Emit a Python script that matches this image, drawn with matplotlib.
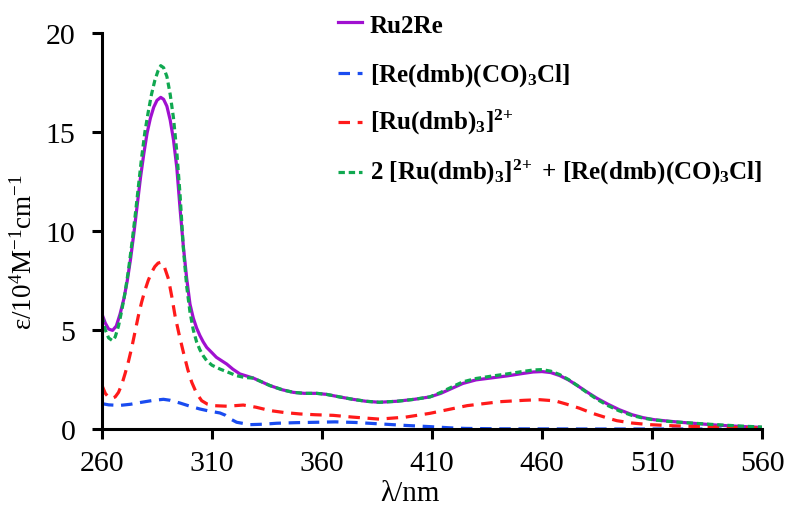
import matplotlib
matplotlib.use("Agg")
import matplotlib.pyplot as plt
from matplotlib.lines import Line2D

plt.rcParams['font.family'] = ['Liberation Serif', 'DejaVu Serif']
plt.rcParams['mathtext.default'] = 'regular'

# Ru2Re (solid purple)
wl_ru2re = [260, 261.5, 263, 264.8, 266.5, 268.2, 270, 271.5, 273, 274.5, 276, 277.5, 279,
            280.5, 282, 283.5, 285, 286.7, 288, 289.5, 291, 292.5, 294, 295.5, 297, 298.5,
            300, 301.5, 303, 304.5, 306, 307.6, 310, 312, 316.7, 319.5, 322.7, 328.8, 336.4,
            342, 347, 352, 357.6, 362, 368, 374, 380, 386, 394, 402, 409, 414, 419, 424, 430,
            437, 444, 451, 456, 460, 464, 468, 472, 476, 480, 485, 490, 495, 501, 506, 511,
            518, 524, 532, 539, 550, 560]
eps_ru2re = [5.8, 5.35, 5.05, 4.98, 5.2, 5.8, 6.6, 7.5, 8.6, 9.9, 11.3, 12.7, 13.9,
             14.95, 15.7, 16.25, 16.6, 16.75, 16.65, 16.3, 15.6, 14.6, 13.2, 11.1, 9.2, 7.6,
             6.3, 5.6, 5.1, 4.72, 4.4, 4.12, 3.85, 3.62, 3.28, 3.02, 2.78, 2.57, 2.19,
             1.98, 1.85, 1.8, 1.8, 1.75, 1.62, 1.5, 1.4, 1.35, 1.4, 1.5, 1.62, 1.8, 2.05, 2.3, 2.48,
             2.58, 2.68, 2.8, 2.88, 2.9, 2.85, 2.7, 2.48, 2.2, 1.9, 1.55, 1.25, 0.98, 0.72, 0.57, 0.47,
             0.39, 0.33, 0.26, 0.2, 0.13, 0.08]

# [Re(dmb)(CO)3Cl]
wl_re = [260, 263, 268, 273, 278, 283, 287.9, 291, 295.5, 300, 304.5, 309, 313.6, 316, 318.5,
         321.2, 327.3, 333, 339.4, 348, 357.6, 366, 375, 386, 398, 409, 418, 425, 440, 480, 560]
eps_re = [1.28, 1.22, 1.19, 1.25, 1.35, 1.44, 1.5, 1.45, 1.31, 1.15, 1.01, 0.9, 0.81, 0.7, 0.5,
          0.34, 0.22, 0.24, 0.29, 0.32, 0.34, 0.36, 0.33, 0.26, 0.18, 0.12, 0.06, 0.03, 0.01, 0.0, 0.0]

# [Ru(dmb)3]2+
wl_ru = [260, 261.5, 263, 264.5, 266, 267.5, 269, 270.5, 272, 273.5, 275, 276.5, 278, 279.5,
         281, 282.5, 284, 285.5, 286.8, 288, 290.2, 291.7, 293.2, 295, 297, 299, 300.8, 303,
         305.3, 308, 310.6, 317, 324.2, 330, 336.4, 343, 350, 357, 365, 374, 386,
         398, 409, 416, 426, 441, 452, 459, 466, 471, 477, 483, 489, 494, 501, 509, 520, 532,
         545, 560]
eps_ru = [2.2, 1.8, 1.6, 1.55, 1.62, 1.85, 2.25, 2.8, 3.4, 4.1, 4.9, 5.7, 6.4, 7.0,
          7.5, 7.9, 8.2, 8.38, 8.42, 8.3, 7.58, 6.7, 5.72, 4.8, 3.87, 3.0, 2.36, 1.8,
          1.43, 1.25, 1.18, 1.15, 1.21, 1.1, 0.93, 0.83, 0.76, 0.72, 0.69, 0.6, 0.5,
          0.6, 0.79, 0.95, 1.18, 1.38, 1.45, 1.48, 1.42, 1.26, 1.05, 0.79, 0.58, 0.42, 0.3, 0.22, 0.16, 0.12,
          0.08, 0.05]

# 2 [Ru(dmb)3]2+ + [Re(dmb)(CO)3Cl]
wl_sum = [260, 261.5, 263, 264.8, 266, 267.5, 269, 270.5, 272, 273.5, 275, 276.5, 278, 279.5,
          281, 282.5, 284, 285.5, 286.7, 288, 289.5, 291, 292.5, 294, 295.5, 297, 298.5, 300,
          301.5, 303, 304.5, 306, 307.6, 310, 313.6, 317, 321.2, 325, 328.8, 336.4, 342, 347,
          352, 357.6, 362, 368, 374, 380, 386, 394, 402, 409, 414, 419, 424, 430, 437, 444, 451,
          456, 460, 464, 468, 472, 476, 480, 485, 490, 495, 501, 506, 511, 518, 524, 532, 539,
          550, 560]
eps_sum = [5.7, 5.0, 4.6, 4.46, 4.65, 5.2, 6.0, 6.9, 8.0, 9.3, 10.7, 12.2, 13.7, 15.0,
           16.0, 16.9, 17.6, 18.1, 18.35, 18.25, 17.8, 16.9, 15.7, 14.0, 11.8, 9.1, 7.2, 5.9,
           5.0, 4.4, 4.0, 3.7, 3.45, 3.22, 3.03, 2.88, 2.69, 2.6, 2.57, 2.19, 1.98, 1.85,
           1.8, 1.8, 1.75, 1.62, 1.5, 1.4, 1.35, 1.4, 1.5, 1.62, 1.85, 2.12, 2.38, 2.55, 2.67, 2.78, 2.9,
           2.98, 3.0, 2.92, 2.75, 2.5, 2.2, 1.88, 1.5, 1.18, 0.92, 0.68, 0.55, 0.46, 0.38, 0.33, 0.27, 0.22,
           0.15, 0.1]

labels = ['Ru2Re',
          '[Re(dmb)(CO)$_3$Cl]',
          '[Ru(dmb)$_3$]$^{2\\!+}$',
          '2 [Ru(dmb)$_3$]$^{2\\!+}$ + [Re(dmb)(CO)$_3$Cl]']
colors = ['#A010D0', '#1A4CF0', '#FF1A1A', '#10A850']
dash_styles = [None, (3.6, 2.4), (3.6, 2.4), (2.0, 1.2)]

fig = plt.figure(figsize=(7.85, 5.06), dpi=100)
W, H = 785, 506
ax = fig.add_axes([102 / W, 1 - 430 / H, 660 / W, 396 / H])

series = [(wl_ru2re, eps_ru2re), (wl_re, eps_re), (wl_ru, eps_ru), (wl_sum, eps_sum)]
for (wl, eps), c, d in zip(series, colors, dash_styles):
    if d is None:
        ax.plot(wl, eps, color=c, lw=2.3)
    else:
        ax.plot(wl, eps, color=c, lw=2.3, dashes=d)

ax.set_xlim(260, 560)
ax.set_ylim(0, 20)
ax.set_xticks(range(260, 561, 50))
ax.set_yticks(range(0, 21, 5))

for side in ['top', 'right']:
    ax.spines[side].set_visible(False)
for side in ['left', 'bottom']:
    ax.spines[side].set_linewidth(2.2)
ax.tick_params(axis='both', direction='out', length=7.2, width=2.2, labelsize=21.5)
ax.tick_params(axis='y', pad=12)
ax.tick_params(axis='x', pad=8)

ax.set_xlabel('λ/nm', fontsize=21)
ax.xaxis.set_label_coords(0.467, -0.128)
ax.set_ylabel('ε/10$^4$M$^{-1}$cm$^{-1}$', fontsize=19.5)
ax.yaxis.set_label_coords(-0.098, 0.449)

# legend, drawn by hand to follow the original row spacing
handle_rows = [23, 74, 123, 173]
text_rows = [33, 82, 130, 180]
for lab, c, d, hy, ty in zip(labels, colors, dash_styles, handle_rows, text_rows):
    ln = Line2D([338 / W, 362 / W], [1 - hy / H, 1 - hy / H], transform=fig.transFigure,
                color=c, lw=2.3)
    if d is not None:
        ln.set_dashes(d)
    fig.add_artist(ln)
    fig.text(370 / W, 1 - ty / H, lab, fontsize=18, fontweight='bold', va='baseline')

fig.savefig('out.png', dpi=100)
